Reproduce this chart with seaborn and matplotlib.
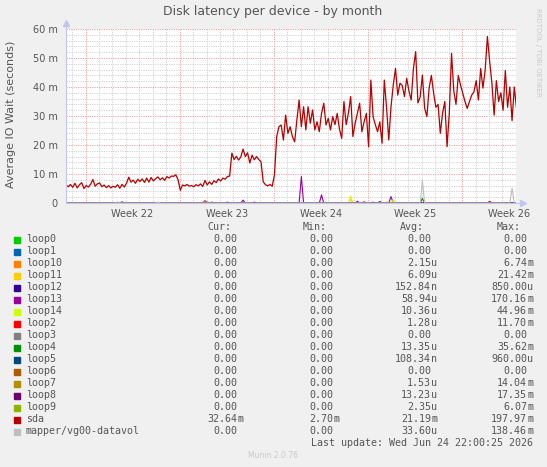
import matplotlib
matplotlib.use('Agg')
import matplotlib.pyplot as plt
from matplotlib.patches import Rectangle
import seaborn as sns
import numpy as np
import pandas as pd

# --- chart text ---
TITLE = "Disk latency per device - by month"
YLABEL = "Average IO Wait (seconds)"
WEEKS = ["Week 22", "Week 23", "Week 24", "Week 25", "Week 26"]
Y_TICKS = [0, 10, 20, 30, 40, 50, 60]
Y_TICK_LABELS = ["0", "10 m", "20 m", "30 m", "40 m", "50 m", "60 m"]
LAST_UPDATE = "Last update: Wed Jun 24 22:00:25 2026"
VERSION = "Munin 2.0.76"
WATERMARK = "RRDTOOL / TOBI OETIKER"

# --- time axis (days from left edge), one sample every 4 hours ---
STEP_HOURS = 4
WEEK_START = 1.45   # day where week 22 begins
SPAN_DAYS = 33.46

# --- sda latency, ms ---
sda = [
    6.2, 5.6, 6.4, 5.4, 6.8, 5.2, 6.3, 7.0, 5.0, 6.0,
    5.5, 6.5, 8.1, 5.8, 6.6, 6.9, 5.6, 6.2, 5.3, 6.0,
    5.2, 5.8, 5.4, 6.3, 5.1, 6.4, 5.5, 6.8, 8.9, 7.2,
    7.9, 6.8, 8.2, 7.4, 8.3, 7.1, 8.6, 7.2, 8.8, 7.6,
    8.4, 9.0, 8.0, 8.7, 7.8, 9.1, 8.6, 9.3, 9.2, 9.7,
    8.0, 4.4, 6.2, 5.9, 6.4, 5.8, 6.0, 5.6, 6.3, 5.9,
    6.6, 5.7, 7.8, 6.2, 7.3, 6.4, 7.7, 7.0, 8.3, 7.6,
    8.6, 8.2, 9.1, 9.3, 17.2, 15.0, 16.1, 14.8, 15.9, 18.6,
    16.0, 17.3, 13.8, 16.5, 14.9, 16.0, 15.0, 14.2, 7.3, 6.3,
    5.9, 6.4, 5.8, 9.7, 22.9, 26.3, 26.9, 21.7, 30.3, 24.0,
    26.3, 22.9, 21.1, 28.6, 35.5, 26.3, 33.2, 25.2, 33.2, 27.5,
    32.1, 25.2, 28.0, 24.6, 30.9, 34.4, 26.9, 29.2, 25.2, 29.8,
    27.0, 30.9, 25.5, 22.3, 35.0, 27.0, 31.0, 36.7, 22.9, 27.5,
    30.9, 34.4, 24.6, 28.0, 30.9, 19.4, 42.4, 29.8, 27.0, 24.6,
    28.0, 20.6, 42.4, 33.0, 21.7, 33.2, 40.7, 46.4, 37.2, 41.3,
    40.5, 36.7, 43.0, 38.6, 35.5, 46.4, 52.2, 34.5, 36.5, 44.1,
    32.7, 29.8, 39.6, 44.0, 38.0, 33.0, 34.0, 24.0, 31.0, 35.0,
    19.4, 31.0, 51.6, 38.6, 34.0, 44.0, 40.7, 37.8, 35.0, 32.6,
    35.0, 37.2, 38.3, 42.2, 35.5, 46.4, 39.6, 45.8, 57.4, 48.9,
    41.4, 30.3, 42.2, 35.0, 38.0, 32.0, 45.7, 33.0, 40.0, 28.4,
    40.0, 32.5,
]

# --- small devices: sample index of each bump and its height, ms ---
loop4_at, loop4_val = [159], [1.6]
loop7_at, loop7_val = [62], [0.5]
loop8_at, loop8_val = [72, 84, 137, 189], [0.3, 0.3, 0.3, 0.5]
loop10_at, loop10_val = [143], [0.3]
loop11_at, loop11_val = [63, 127, 189], [0.6, 1.2, 0.5]
loop12_at, loop12_val = [65, 133, 140], [0.3, 0.4, 0.5]
loop13_at = [25, 62, 79, 105, 114, 130, 145]
loop13_val = [0.4, 0.8, 1.0, 9.1, 2.8, 0.6, 2.2]
loop14_at, loop14_val = [127, 146, 149], [2.4, 1.0, 0.3]
mapper_at, mapper_val = [23, 41, 159, 199], [0.4, 0.3, 7.7, 5.1]

# --- legend table ---
names = ["loop0", "loop1", "loop10", "loop11", "loop12", "loop13", "loop14",
         "loop2", "loop3", "loop4", "loop5", "loop6", "loop7", "loop8",
         "loop9", "sda", "mapper/vg00-datavol"]
colors = ["#00CC00", "#0066B3", "#FF8000", "#FFCC00", "#330099", "#990099",
          "#CCFF00", "#FF0000", "#808080", "#008F00", "#00487D", "#B35A00",
          "#B38F00", "#6B006B", "#8FB300", "#B30000", "#BEBEBE"]
cur = ["0.00"] * 15 + ["32.64m", "0.00"]
mins = ["0.00"] * 15 + ["2.70m", "0.00"]
avgs = ["0.00", "0.00", "2.15u", "6.09u", "152.84n", "58.94u", "10.36u",
        "1.28u", "0.00", "13.35u", "108.34n", "0.00", "1.53u", "13.23u",
        "2.35u", "21.19m", "33.60u"]
maxs = ["0.00", "0.00", "6.74m", "21.42m", "850.00u", "170.16m", "44.96m",
        "11.70m", "0.00", "35.62m", "960.00u", "0.00", "14.04m", "17.35m",
        "6.07m", "197.97m", "138.46m"]

W, H = 547, 467
GREY = "#555555"
AXIS = "#C4C4F0"


def px(x, y):
    # figure pixel -> figure fraction
    return x / W, 1 - y / H


def bumps(at, val):
    out = np.zeros(len(sda))
    out[at] = val
    return out


sns.set_style("white")
plt.rcParams['font.family'] = ['DejaVu Sans']

t = np.arange(len(sda)) * STEP_HOURS / 24.0
series = {n: np.zeros(len(sda)) for n in names}
series["loop4"] = bumps(loop4_at, loop4_val)
series["loop7"] = bumps(loop7_at, loop7_val)
series["loop8"] = bumps(loop8_at, loop8_val)
series["loop10"] = bumps(loop10_at, loop10_val)
series["loop11"] = bumps(loop11_at, loop11_val)
series["loop12"] = bumps(loop12_at, loop12_val)
series["loop13"] = bumps(loop13_at, loop13_val)
series["loop14"] = bumps(loop14_at, loop14_val)
series["mapper/vg00-datavol"] = bumps(mapper_at, mapper_val)
series["sda"] = np.array(sda)

fig = plt.figure(figsize=(W / 100, H / 100), dpi=100, facecolor="#F0F0F0")
ax = fig.add_axes([66 / W, 1 - 203 / H, 450 / W, 174 / H])
ax.set_facecolor("white")

# grid: minor dotted grey, major dotted red
dots = (0, (1.2, 1.2))
for v in range(2, 60, 2):
    if v % 10:
        ax.axhline(v, color="#D2D2D2", lw=0.7, ls=dots, zorder=0.5)
for v in range(10, 61, 10):
    ax.axhline(v, color="#F2A0A0", lw=0.7, ls=dots, zorder=0.6)
day = WEEK_START - 1
while day < SPAN_DAYS:
    is_week = abs(((day - WEEK_START) % 7)) < 1e-6 or abs(((day - WEEK_START) % 7) - 7) < 1e-6
    ax.axvline(day, color="#F2A0A0" if is_week else "#D2D2D2", lw=0.7, ls=dots,
               zorder=0.6 if is_week else 0.5)
    day += 1

for n, c in zip(names, colors):
    sns.lineplot(x=t, y=series[n], color=c, lw=0.9 if n == "sda" else 0.8,
                 ax=ax, estimator=None, legend=False, zorder=3)

ax.set_xlim(0, SPAN_DAYS)
ax.set_ylim(0, 60)
ax.set_xlabel("")
ax.set_ylabel("")

week_edges = [WEEK_START + 7 * k for k in range(len(WEEKS))]
ax.set_xticks(week_edges)
ax.set_xticklabels([""] * len(week_edges))
ax.set_xticks([w + 3.5 for w in week_edges], minor=True)
ax.set_xticklabels(WEEKS, minor=True)
ax.tick_params(axis="x", which="major", length=3, color="#F2A0A0", width=0.7)
ax.tick_params(axis="x", which="minor", length=0, pad=4, labelsize=7,
               labelcolor=GREY)
ax.set_yticks(Y_TICKS)
ax.set_yticklabels(Y_TICK_LABELS)
ax.set_yticks(range(2, 60, 2), minor=True)
ax.tick_params(axis="y", which="both", length=2, width=0.7, color="#B0B0B0",
               labelsize=7, labelcolor=GREY, pad=4)

for side in ("top", "right"):
    ax.spines[side].set_visible(False)
for side in ("left", "bottom"):
    ax.spines[side].set_color(AXIS)
    ax.spines[side].set_linewidth(0.8)
    ax.spines[side].set_zorder(5)

# axis arrows
ax.plot([0, 0], [1, 1.03], transform=ax.transAxes, color=AXIS, lw=0.8,
        clip_on=False, zorder=5)
ax.plot([0], [1.035], transform=ax.transAxes, marker="^", ms=4, color=AXIS,
        clip_on=False, zorder=5)
ax.plot([1, 1.012], [0, 0], transform=ax.transAxes, color=AXIS, lw=0.8,
        clip_on=False, zorder=5)
ax.plot([1.016], [0], transform=ax.transAxes, marker=">", ms=4, color=AXIS,
        clip_on=False, zorder=5)

fig.text(*px(273, 12), TITLE, ha="center", va="center", fontsize=9, color=GREY)
fig.text(*px(11, 114), YLABEL, ha="center", va="center", rotation=90,
         fontsize=8, color=GREY)
fig.text(*px(538, 8), WATERMARK, ha="center", va="top", rotation=270,
         fontsize=5, color="#C8C8C8")

# legend table
mono = dict(family="DejaVu Sans Mono", fontsize=7.2, color=GREY, va="center")
row0, row_h = 239.5, 12
for label, hx in zip(["Cur:", "Min:", "Avg:", "Max:"], [207, 303, 400, 497]):
    fig.text(*px(hx, row0 - row_h), label, ha="left", **mono)


def cell(s, right, y):
    num, unit = (s[:-1], s[-1]) if s[-1].isalpha() else (s, "")
    fig.text(*px(right, y), num, ha="right", **mono)
    if unit:
        fig.text(*px(right, y), unit, ha="left", **mono)


for i, n in enumerate(names):
    y = row0 + i * row_h
    fig.add_artist(Rectangle(px(14, y + 3), 6 / W, 6 / H, color=colors[i],
                             transform=fig.transFigure))
    fig.text(*px(26, y), n, ha="left", **mono)
    cell(cur[i], 237, y)
    cell(mins[i], 333, y)
    cell(avgs[i], 431, y)
    cell(maxs[i], 527, y)

fig.text(*px(533, row0 + len(names) * row_h), LAST_UPDATE, ha="right", **mono)
fig.text(*px(273, 455), VERSION, ha="center", va="center", fontsize=5.5,
         color="#C8C8C8")

fig.savefig("out.png", dpi=100, facecolor=fig.get_facecolor())
